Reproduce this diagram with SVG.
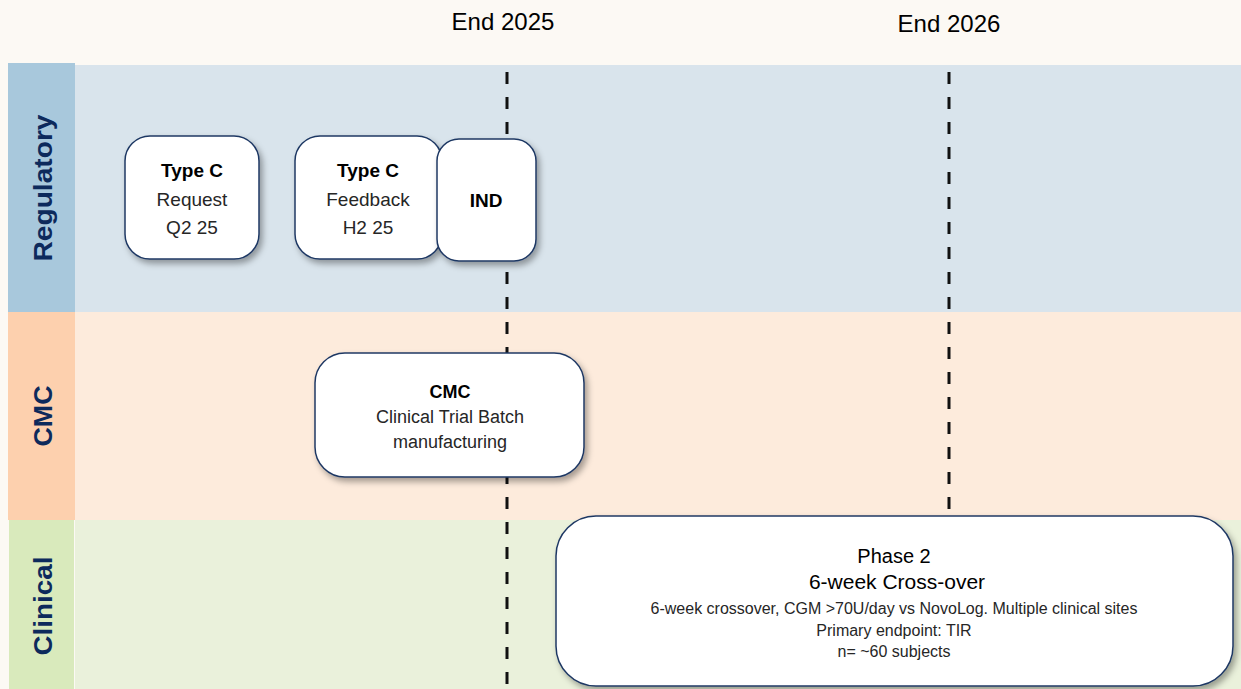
<svg xmlns="http://www.w3.org/2000/svg" width="1241" height="689" viewBox="0 0 1241 689">
<defs>
<filter id="sh" x="-20%" y="-20%" width="140%" height="150%">
<feDropShadow dx="3" dy="4" stdDeviation="3" flood-color="#000" flood-opacity="0.35"/>
</filter>
<style>
.t{font-family:"Liberation Sans",Arial,sans-serif;fill:#262626;text-anchor:middle}
.b{font-weight:bold;fill:#000}
.lane{font-family:"Liberation Sans",Arial,sans-serif;font-weight:bold;fill:#0d2a5c;text-anchor:middle;font-size:25px}
.box{fill:#fff;stroke:#1f3864;stroke-width:1.5;filter:url(#sh)}
.dash{stroke:#111;stroke-width:3;stroke-dasharray:12 13;fill:none}
</style>
</defs>
<rect width="1241" height="689" fill="#fcf9f4"/>
<g id="lanes">
<rect x="75" y="65" width="1166" height="247" fill="#d9e4ec"/>
<rect x="8" y="63" width="67" height="249" fill="#a8c8dc"/>
<rect x="75" y="312" width="1166" height="208" fill="#fdebdc"/>
<rect x="8" y="312" width="67" height="208" fill="#fdd0ae"/>
<rect x="75" y="520" width="1166" height="169" fill="#eaf1db"/>
<rect x="9" y="520" width="65" height="169" fill="#d9eabc"/>
<text class="lane" transform="translate(52,188) rotate(-90)" textLength="147" lengthAdjust="spacingAndGlyphs">Regulatory</text>
<text class="lane" transform="translate(52,416) rotate(-90)" textLength="61" lengthAdjust="spacingAndGlyphs">CMC</text>
<text class="lane" transform="translate(52,606) rotate(-90)" textLength="99" lengthAdjust="spacingAndGlyphs">Clinical</text>
</g>
<g id="timeline">
<text class="t" x="503" y="30" font-size="24" fill="#000" style="fill:#000">End 2025</text>
<text class="t" x="949" y="32" font-size="24" style="fill:#000">End 2026</text>
<line class="dash" x1="507" y1="72" x2="507" y2="689"/>
<line class="dash" x1="949" y1="72" x2="949" y2="689"/>
</g>
<g id="connectors"></g>
<g id="typec-request">
<rect class="box" x="125" y="136" width="134" height="123" rx="25"/>
<text class="t b" x="192" y="177" font-size="19">Type C</text>
<text class="t" x="192" y="206" font-size="19">Request</text>
<text class="t" x="192" y="234" font-size="19">Q2 25</text>
</g>
<g id="typec-feedback">
<rect class="box" x="295" y="136" width="147" height="123" rx="25"/>
<text class="t b" x="368" y="177" font-size="19">Type C</text>
<text class="t" x="368" y="206" font-size="19">Feedback</text>
<text class="t" x="368" y="234" font-size="19">H2 25</text>
</g>
<g id="ind">
<rect class="box" x="437" y="139" width="99" height="122" rx="22"/>
<text class="t b" x="486" y="207" font-size="19">IND</text>
</g>
<g id="cmc">
<rect class="box" x="315" y="353" width="269" height="124" rx="30"/>
<text class="t b" x="450" y="398" font-size="18">CMC</text>
<text class="t" x="450" y="423" font-size="18">Clinical Trial Batch</text>
<text class="t" x="450" y="448" font-size="18">manufacturing</text>
</g>
<g id="phase2">
<rect class="box" x="556" y="516" width="677" height="170" rx="40"/>
<text class="t" x="894" y="563" font-size="20" style="fill:#000">Phase 2</text>
<text class="t" x="897" y="589" font-size="21" style="fill:#000">6-week Cross-over</text>
<text class="t" x="894" y="614" font-size="16">6-week crossover, CGM &gt;70U/day vs NovoLog. Multiple clinical sites</text>
<text class="t" x="894" y="636" font-size="16">Primary endpoint: TIR</text>
<text class="t" x="894" y="657" font-size="16">n= ~60 subjects</text>
</g>
</svg>
